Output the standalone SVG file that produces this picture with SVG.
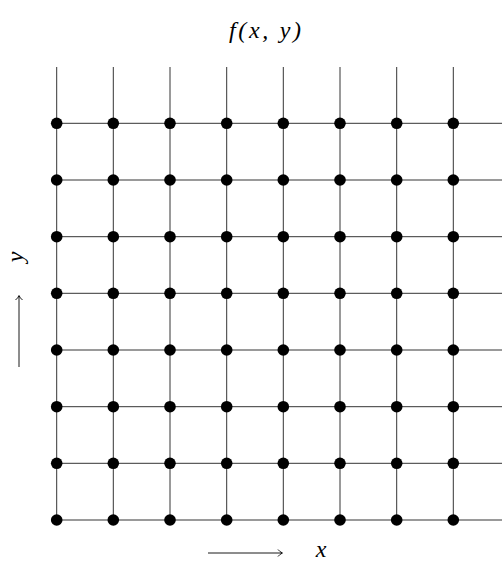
<svg xmlns="http://www.w3.org/2000/svg" width="502" height="563" viewBox="0 0 502 563">
<style>
.g{stroke:#000;stroke-width:0.8;fill:none}
.d{fill:#000}
.t{font-family:"Liberation Serif","Times New Roman",serif;font-style:italic;font-size:24px;fill:#000}
.a{stroke:#000;stroke-width:0.9;fill:none}
</style>
<defs>
<marker id="ah" markerWidth="10" markerHeight="10" refX="6" refY="5" orient="auto" markerUnits="userSpaceOnUse">
<path d="M2,1.5 Q4,4 6.5,5 Q4,6 2,8.5" stroke="#000" stroke-width="0.9" fill="none"/>
</marker>
<circle id="dot" r="5.8" class="d"/>
</defs>
<rect width="502" height="563" fill="#fff"/>
<text class="t" x="229" y="38" font-size="25" textLength="72" lengthAdjust="spacing">f(x, y)</text>
<g id="connectors">
<path class="g" d="M56.7,67V520M113.3,67V520M170,67V520M226.7,67V520M283.3,67V520M340,67V520M396.7,67V520M453.3,67V520"/>
<path class="g" d="M56.7,123.3H502M56.7,180H502M56.7,236.7H502M56.7,293.3H502M56.7,350H502M56.7,406.7H502M56.7,463.3H502M56.7,520H502"/>
<path class="a" d="M19,367V296" marker-end="url(#ah)"/>
<path class="a" d="M208,553H282" marker-end="url(#ah)"/>
</g>
<text class="t" x="0" y="0" text-anchor="middle" transform="translate(23,257) rotate(-90)">y</text>
<text class="t" x="321" y="557" text-anchor="middle">x</text>
<g id="nodes">
<g id="r1"><use href="#dot" x="56.7" y="123.3"/><use href="#dot" x="113.3" y="123.3"/><use href="#dot" x="170" y="123.3"/><use href="#dot" x="226.7" y="123.3"/><use href="#dot" x="283.3" y="123.3"/><use href="#dot" x="340" y="123.3"/><use href="#dot" x="396.7" y="123.3"/><use href="#dot" x="453.3" y="123.3"/></g>
<g id="r2"><use href="#dot" x="56.7" y="180"/><use href="#dot" x="113.3" y="180"/><use href="#dot" x="170" y="180"/><use href="#dot" x="226.7" y="180"/><use href="#dot" x="283.3" y="180"/><use href="#dot" x="340" y="180"/><use href="#dot" x="396.7" y="180"/><use href="#dot" x="453.3" y="180"/></g>
<g id="r3"><use href="#dot" x="56.7" y="236.7"/><use href="#dot" x="113.3" y="236.7"/><use href="#dot" x="170" y="236.7"/><use href="#dot" x="226.7" y="236.7"/><use href="#dot" x="283.3" y="236.7"/><use href="#dot" x="340" y="236.7"/><use href="#dot" x="396.7" y="236.7"/><use href="#dot" x="453.3" y="236.7"/></g>
<g id="r4"><use href="#dot" x="56.7" y="293.3"/><use href="#dot" x="113.3" y="293.3"/><use href="#dot" x="170" y="293.3"/><use href="#dot" x="226.7" y="293.3"/><use href="#dot" x="283.3" y="293.3"/><use href="#dot" x="340" y="293.3"/><use href="#dot" x="396.7" y="293.3"/><use href="#dot" x="453.3" y="293.3"/></g>
<g id="r5"><use href="#dot" x="56.7" y="350"/><use href="#dot" x="113.3" y="350"/><use href="#dot" x="170" y="350"/><use href="#dot" x="226.7" y="350"/><use href="#dot" x="283.3" y="350"/><use href="#dot" x="340" y="350"/><use href="#dot" x="396.7" y="350"/><use href="#dot" x="453.3" y="350"/></g>
<g id="r6"><use href="#dot" x="56.7" y="406.7"/><use href="#dot" x="113.3" y="406.7"/><use href="#dot" x="170" y="406.7"/><use href="#dot" x="226.7" y="406.7"/><use href="#dot" x="283.3" y="406.7"/><use href="#dot" x="340" y="406.7"/><use href="#dot" x="396.7" y="406.7"/><use href="#dot" x="453.3" y="406.7"/></g>
<g id="r7"><use href="#dot" x="56.7" y="463.3"/><use href="#dot" x="113.3" y="463.3"/><use href="#dot" x="170" y="463.3"/><use href="#dot" x="226.7" y="463.3"/><use href="#dot" x="283.3" y="463.3"/><use href="#dot" x="340" y="463.3"/><use href="#dot" x="396.7" y="463.3"/><use href="#dot" x="453.3" y="463.3"/></g>
<g id="r8"><use href="#dot" x="56.7" y="520"/><use href="#dot" x="113.3" y="520"/><use href="#dot" x="170" y="520"/><use href="#dot" x="226.7" y="520"/><use href="#dot" x="283.3" y="520"/><use href="#dot" x="340" y="520"/><use href="#dot" x="396.7" y="520"/><use href="#dot" x="453.3" y="520"/></g>
</g>
</svg>
